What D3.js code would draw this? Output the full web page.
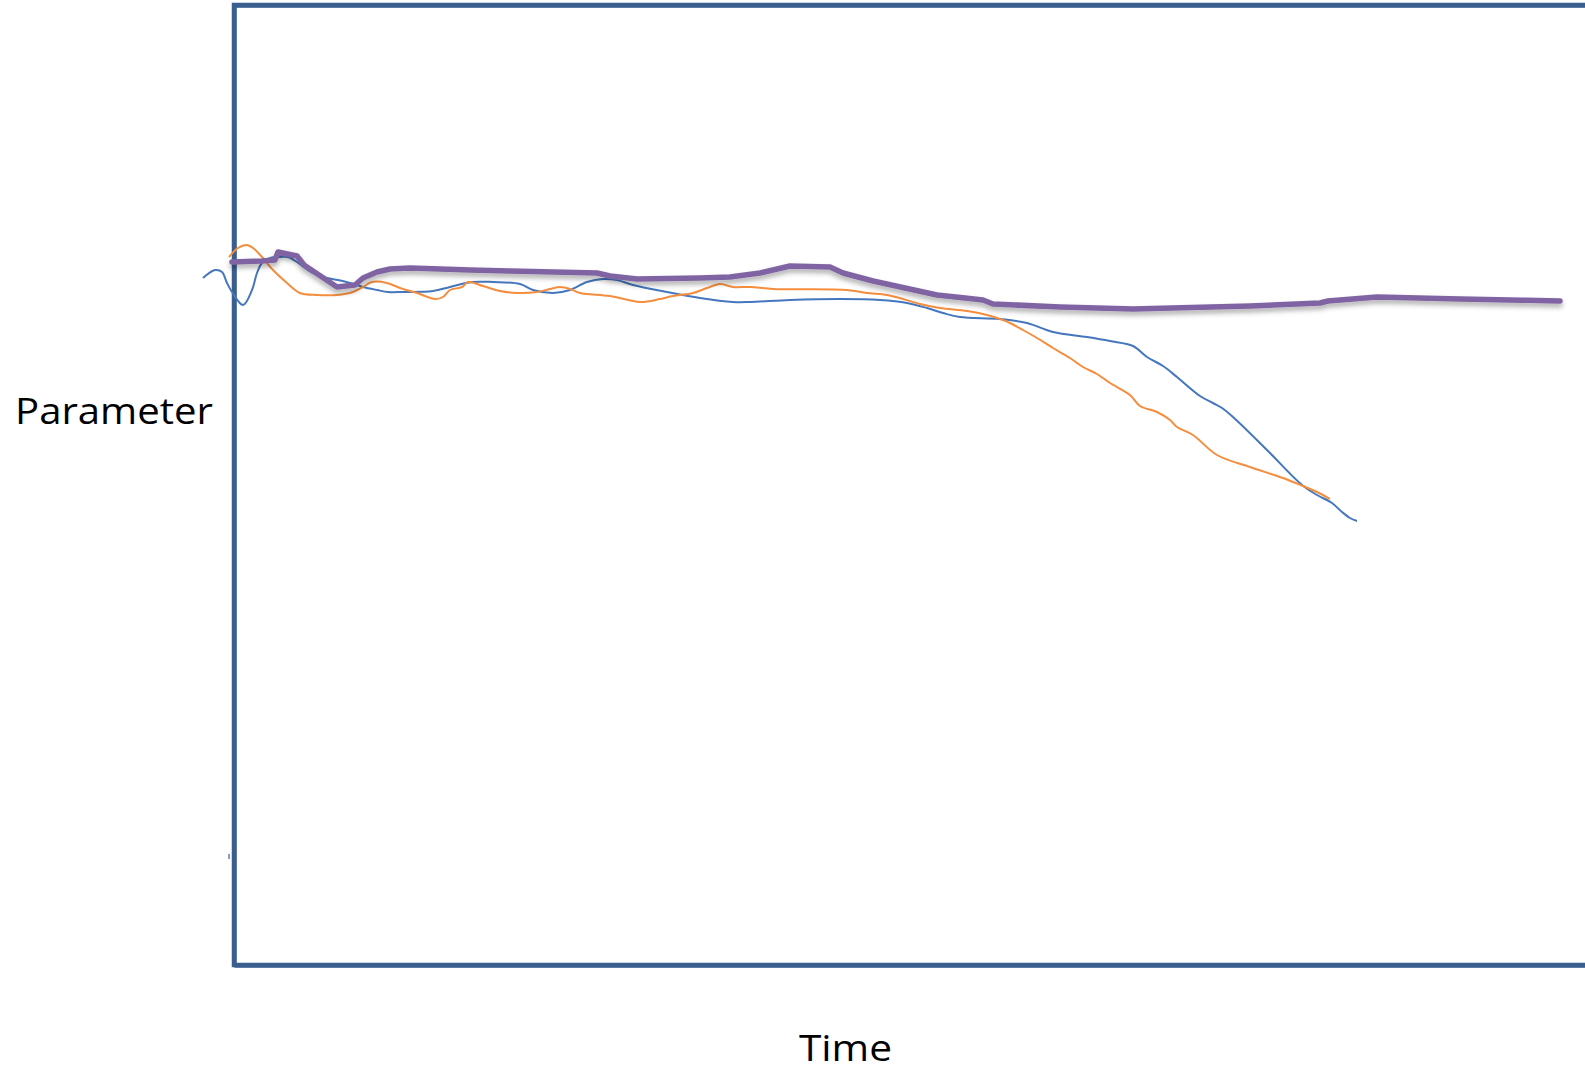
<!DOCTYPE html>
<html><head><meta charset="utf-8">
<script src="https://cdn.jsdelivr.net/npm/d3@7"></script>
<style>html,body{margin:0;padding:0;background:#fff;overflow:hidden}</style>
</head><body>
<svg id="chart" width="1585" height="1074"></svg>
<script>
// Data: time (x) and parameter (y) values
const purpleTime = [-2,28,41,44,63,70,103,121,129,143,156,176,236,363,376,403,466,496,526,556,596,609,639,671,703,731,749,759,826,899,1016,1086,1094,1143,1226,1326];
const purpleVal  = [703,704,705,713,709,700,678,680,687,693,696,697,695,692,689,686,687,688,692,699,698,692,684,677,670,667,665,661,658,656,659,662,664,668,666,664];

const blueTime = [-31,-19,-12,-7,-2,9,18,23,28,36,46,54,63,71,79,93,104,116,129,143,154,169,199,216,238,259,286,299,319,336,353,369,383,399,433,466,499,516,556,606,646,673,693,709,726,766,793,819,853,876,899,913,929,943,966,979,988,999,1033,1068,1083,1098,1108,1116,1123];
const blueVal  = [687,695,693,682,673,660,675,692,702,707,708,708,703,697,692,687,685,682,678,675,673,673,674,678,683,683,681,675,672,675,683,686,685,680,673,667,663,663,665,666,665,662,657,652,648,646,642,633,628,624,619,608,599,588,569,562,557,548,515,480,470,462,453,447,444];

const orangeTime = [-5,4,13,19,28,39,53,66,83,103,119,129,138,153,166,183,201,209,216,228,234,249,266,283,303,316,326,336,346,376,406,426,439,459,473,486,499,516,539,613,633,653,669,686,706,733,753,769,776,789,803,819,836,849,863,876,896,906,923,936,943,959,983,1016,1049,1069,1083,1096];
const orangeVal  = [708,717,720,717,708,695,682,672,670,670,673,678,683,682,677,672,666,668,675,678,683,679,674,672,673,676,678,676,672,669,663,666,669,672,677,681,678,678,676,675,672,670,666,661,657,654,650,645,642,635,627,617,607,598,591,582,570,559,553,545,538,530,510,498,487,479,473,466];

const xTicks = [];  // no tick labels in the reference
const yTicks = [];
const xLabel = "Time";
const yLabel = "Parameter";

const svg = d3.select("#chart");
const leftX = 234, topY = 5, bottomY = 965, rightX = 1700;
const x = d3.scaleLinear().domain([0, 1466]).range([leftX, rightX]);
const y = d3.scaleLinear().domain([0, 960]).range([bottomY, topY]);

const defs = svg.append("defs");
const f = defs.append("filter").attr("id","shadow").attr("x","-5%").attr("y","-50%").attr("width","110%").attr("height","200%");
f.append("feDropShadow").attr("dx",0).attr("dy",3.5).attr("stdDeviation",2.5).attr("flood-color","#000").attr("flood-opacity",0.33);

const frameColor = "#3A5F8F";
// axes (no ticks), forming the frame
svg.append("g").attr("transform",`translate(0,${bottomY})`).call(d3.axisBottom(x).tickValues(xTicks).tickSizeOuter(0))
  .call(g=>g.select(".domain").attr("stroke",frameColor).attr("stroke-width",4.5));
svg.append("g").attr("transform",`translate(${leftX},0)`).call(d3.axisLeft(y).tickValues(yTicks).tickSizeOuter(0))
  .call(g=>g.select(".domain").attr("stroke",frameColor).attr("stroke-width",4.5));
svg.append("g").attr("transform",`translate(0,${topY})`).call(d3.axisTop(x).tickValues(xTicks).tickSizeOuter(0))
  .call(g=>g.select(".domain").attr("stroke",frameColor).attr("stroke-width",4.5));
// square corners
svg.append("path").attr("d",`M${rightX},${topY}H${leftX}V${bottomY}H${rightX}`)
  .attr("fill","none").attr("stroke",frameColor).attr("stroke-width",4.5).attr("stroke-linejoin","miter");
// tiny stray mark near left axis
svg.append("line").attr("x1",x(-5)).attr("x2",x(-5)).attr("y1",y(111)).attr("y2",y(106)).attr("stroke","#5a7fb0").attr("stroke-width",1.5);

const zip = (a,b)=>a.map((v,i)=>[v,b[i]]);
const smooth = d3.line().x(d=>x(d[0])).y(d=>y(d[1])).curve(d3.curveCatmullRom);
const straight = d3.line().x(d=>x(d[0])).y(d=>y(d[1])).curve(d3.curveLinear);

svg.append("path").datum(zip(blueTime, blueVal)).attr("d", smooth)
  .attr("fill","none").attr("stroke","#4477BD").attr("stroke-width",2);
svg.append("path").datum(zip(orangeTime, orangeVal)).attr("d", smooth)
  .attr("fill","none").attr("stroke","#F58D3E").attr("stroke-width",2);
svg.append("path").datum(zip(purpleTime, purpleVal)).attr("d", straight)
  .attr("fill","none").attr("stroke","#8064A2").attr("stroke-width",5.5).attr("stroke-linejoin","round").attr("stroke-linecap","round").attr("filter","url(#shadow)");

svg.append("text").attr("x",15).attr("y",424).text(yLabel)
  .attr("font-family","'Open Sans', sans-serif").attr("font-size",37).attr("fill","#000")
  .attr("textLength",198).attr("lengthAdjust","spacingAndGlyphs");
svg.append("text").attr("x",799).attr("y",1061).text(xLabel)
  .attr("font-family","'Open Sans', sans-serif").attr("font-size",36).attr("fill","#000")
  .attr("textLength",93).attr("lengthAdjust","spacingAndGlyphs");
</script>
</body></html>
